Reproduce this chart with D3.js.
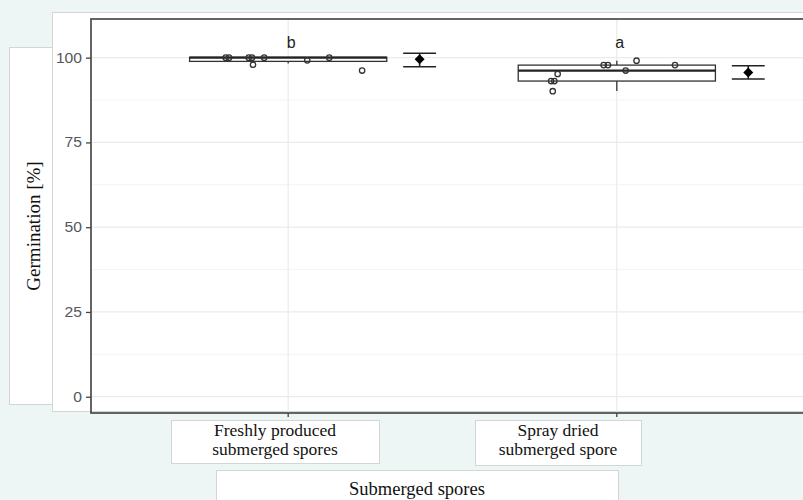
<!DOCTYPE html>
<html>
<head>
    <meta charset="utf-8">
    <title>Germination of submerged spores</title>
    <script src="https://cdn.jsdelivr.net/npm/d3@7"></script>
    <style>
        html, body {
            margin: 0;
            padding: 0;
            background: #eef6f5;
        }
        svg { display: block; }
        .tick-label { font: 14px "Liberation Sans", Arial, sans-serif; fill: #55565f; }
        .serif { font-family: "Liberation Serif", "Times New Roman", serif; fill: #111; }
    </style>
</head>
<body>
<script>
    // data
    var categories = ["fresh", "dried"];
    var categoryLines = [["Freshly produced", "submerged spores"], ["Spray dried", "submerged spore"]];
    var letters = ["b", "a"];
    // box stats: lower whisker, q1, median, q3, upper whisker
    var boxLow = [98.3, 90.2], boxQ1 = [98.9, 93.1], boxMed = [100, 96.2], boxQ3 = [100.1, 97.8], boxHigh = [100, 99.1];
    var means = [99.5, 95.6];
    var errLow = [97.3, 93.7], errHigh = [101.3, 97.6];
    // raw points: value and horizontal jitter (in category units)
    var pointsFresh = [100, 100, 100, 100, 97.9, 100, 99.2, 100, 96.2];
    var jitterFresh = [-0.19, -0.18, -0.12, -0.11, -0.107, -0.073, 0.058, 0.125, 0.225];
    var pointsDried = [97.8, 97.8, 99.1, 96.2, 97.8, 95.2, 93.1, 93.1, 90.1];
    var jitterDried = [-0.04, -0.027, 0.06, 0.027, 0.177, -0.18, -0.2, -0.19, -0.195];
    var yTicks = [0, 25, 50, 75, 100];
    var yMinor = [12.5, 37.5, 62.5, 87.5];

    var W = 803, H = 500;
    var svg = d3.select("body").append("svg").attr("width", W).attr("height", H);

    // pasted white panels (the figure is a collage)
    var panels = [
        [9, 47, 60, 357],      // y-title box
        [52, 12, 760, 399],    // plot image
        [171, 420, 208, 43],   // first x label
        [475, 420, 166, 45],   // second x label
        [216, 470, 402, 40]    // x title
    ];
    svg.selectAll("rect.panel").data(panels).enter().append("rect")
        .attr("class", "panel")
        .attr("x", function(d) { return d[0] + 0.5; })
        .attr("y", function(d) { return d[1] + 0.5; })
        .attr("width", function(d) { return d[2]; })
        .attr("height", function(d) { return d[3]; })
        .attr("fill", "#fff")
        .attr("stroke", "#d2d6d6")
        .attr("stroke-width", 1);

    var pLeft = 91, pTop = 19, pRight = 814, pBottom = 413;
    var x = d3.scalePoint().domain(categories).range([pLeft, pRight]).padding(0.6);
    var step = x.step();
    var y = d3.scaleLinear().domain([-4.8, 111.4]).range([pBottom, pTop]);

    var plot = svg.append("g");
    plot.append("clipPath").attr("id", "clip").append("rect")
        .attr("x", pLeft).attr("y", pTop).attr("width", pRight - pLeft).attr("height", pBottom - pTop);
    var g = plot.append("g").attr("clip-path", "url(#clip)");

    // grid
    g.selectAll("line.minor").data(yMinor).enter().append("line")
        .attr("x1", pLeft).attr("x2", pRight)
        .attr("y1", function(d) { return y(d); }).attr("y2", function(d) { return y(d); })
        .attr("stroke", "#f2f2f2").attr("stroke-width", 0.9);
    g.selectAll("line.major").data(yTicks).enter().append("line")
        .attr("x1", pLeft).attr("x2", pRight)
        .attr("y1", function(d) { return y(d); }).attr("y2", function(d) { return y(d); })
        .attr("stroke", "#ebebeb").attr("stroke-width", 1.3);
    g.selectAll("line.vgrid").data(categories).enter().append("line")
        .attr("x1", function(d) { return x(d); }).attr("x2", function(d) { return x(d); })
        .attr("y1", pTop).attr("y2", pBottom)
        .attr("stroke", "#ebebeb").attr("stroke-width", 1.3);

    // boxplots
    var bw = step * 0.6;
    categories.forEach(function(c, i) {
        var cx = x(c);
        g.append("line").attr("x1", cx).attr("x2", cx)
            .attr("y1", y(boxHigh[i])).attr("y2", y(boxQ3[i]))
            .attr("stroke", "#333").attr("stroke-width", 1.3);
        g.append("line").attr("x1", cx).attr("x2", cx)
            .attr("y1", y(boxQ1[i])).attr("y2", y(boxLow[i]))
            .attr("stroke", "#333").attr("stroke-width", 1.3);
        g.append("rect")
            .attr("x", cx - bw / 2).attr("width", bw)
            .attr("y", y(boxQ3[i])).attr("height", Math.max(y(boxQ1[i]) - y(boxQ3[i]), 2))
            .attr("fill", "#fff").attr("stroke", "#333").attr("stroke-width", 1.3);
        g.append("line").attr("x1", cx - bw / 2).attr("x2", cx + bw / 2)
            .attr("y1", y(boxMed[i])).attr("y2", y(boxMed[i]))
            .attr("stroke", "#222").attr("stroke-width", 2.2);
    });

    // jittered points
    var pts = [];
    pointsFresh.forEach(function(v, i) { pts.push({c: categories[0], v: v, j: jitterFresh[i]}); });
    pointsDried.forEach(function(v, i) { pts.push({c: categories[1], v: v, j: jitterDried[i]}); });
    g.selectAll("circle.pt").data(pts).enter().append("circle")
        .attr("cx", function(d) { return x(d.c) + d.j * step; })
        .attr("cy", function(d) { return y(d.v); })
        .attr("r", 2.7)
        .attr("fill", "none").attr("stroke", "#333").attr("stroke-width", 1.3);

    // mean +/- error, offset to the right
    var capW = step * 0.1;
    categories.forEach(function(c, i) {
        var mx = x(c) + step * 0.4;
        g.append("line").attr("x1", mx).attr("x2", mx)
            .attr("y1", y(errHigh[i])).attr("y2", y(errLow[i]))
            .attr("stroke", "#222").attr("stroke-width", 1.6);
        [errHigh[i], errLow[i]].forEach(function(v) {
            g.append("line").attr("x1", mx - capW / 2).attr("x2", mx + capW / 2)
                .attr("y1", y(v)).attr("y2", y(v))
                .attr("stroke", "#222").attr("stroke-width", 1.6);
        });
        g.append("path")
            .attr("d", d3.symbol().type(d3.symbolSquare).size(50)())
            .attr("transform", "translate(" + mx + "," + y(means[i]) + ") rotate(45)")
            .attr("fill", "#000");
    });

    // significance letters
    g.selectAll("text.letter").data(categories).enter().append("text")
        .attr("x", function(d) { return x(d) + 3; })
        .attr("y", 48)
        .attr("text-anchor", "middle")
        .style("font", "16px 'Liberation Sans', Arial, sans-serif")
        .attr("fill", "#222")
        .text(function(d, i) { return letters[i]; });

    // panel border
    plot.append("rect")
        .attr("x", pLeft).attr("y", pTop).attr("width", pRight - pLeft).attr("height", pBottom - pTop)
        .attr("fill", "none").attr("stroke", "#4a4a4a").attr("stroke-width", 1.7);

    // y axis
    var yAxis = plot.append("g").attr("transform", "translate(" + pLeft + ",0)")
        .call(d3.axisLeft(y).tickValues(yTicks).tickSize(5).tickPadding(5).tickFormat(d3.format("d")));
    yAxis.select(".domain").remove();
    yAxis.selectAll(".tick line").attr("stroke", "#444").attr("stroke-width", 1.3);
    yAxis.selectAll(".tick text").attr("class", "tick-label")
        .attr("font-size", null).attr("font-family", null)
        .attr("x", -8).attr("transform", "scale(1.12,1)");

    // x axis ticks
    plot.selectAll("line.xtick").data(categories).enter().append("line")
        .attr("x1", function(d) { return x(d); }).attr("x2", function(d) { return x(d); })
        .attr("y1", pBottom).attr("y2", pBottom + 4)
        .attr("stroke", "#444").attr("stroke-width", 1.3);

    // pasted label texts
    svg.append("text").attr("class", "serif")
        .attr("transform", "translate(40,226) rotate(-90)")
        .attr("text-anchor", "middle")
        .attr("font-size", 19)
        .text("Germination [%]");

    var labelCenters = [275, 558];
    categoryLines.forEach(function(lines, i) {
        var t = svg.append("text").attr("class", "serif")
            .attr("text-anchor", "middle").attr("font-size", 17.5);
        lines.forEach(function(l, k) {
            t.append("tspan").attr("x", labelCenters[i]).attr("y", 436 + k * 19).text(l);
        });
    });

    svg.append("text").attr("class", "serif")
        .attr("x", 417).attr("y", 495)
        .attr("text-anchor", "middle").attr("font-size", 18.5)
        .text("Submerged spores");
</script>
</body>
</html>
